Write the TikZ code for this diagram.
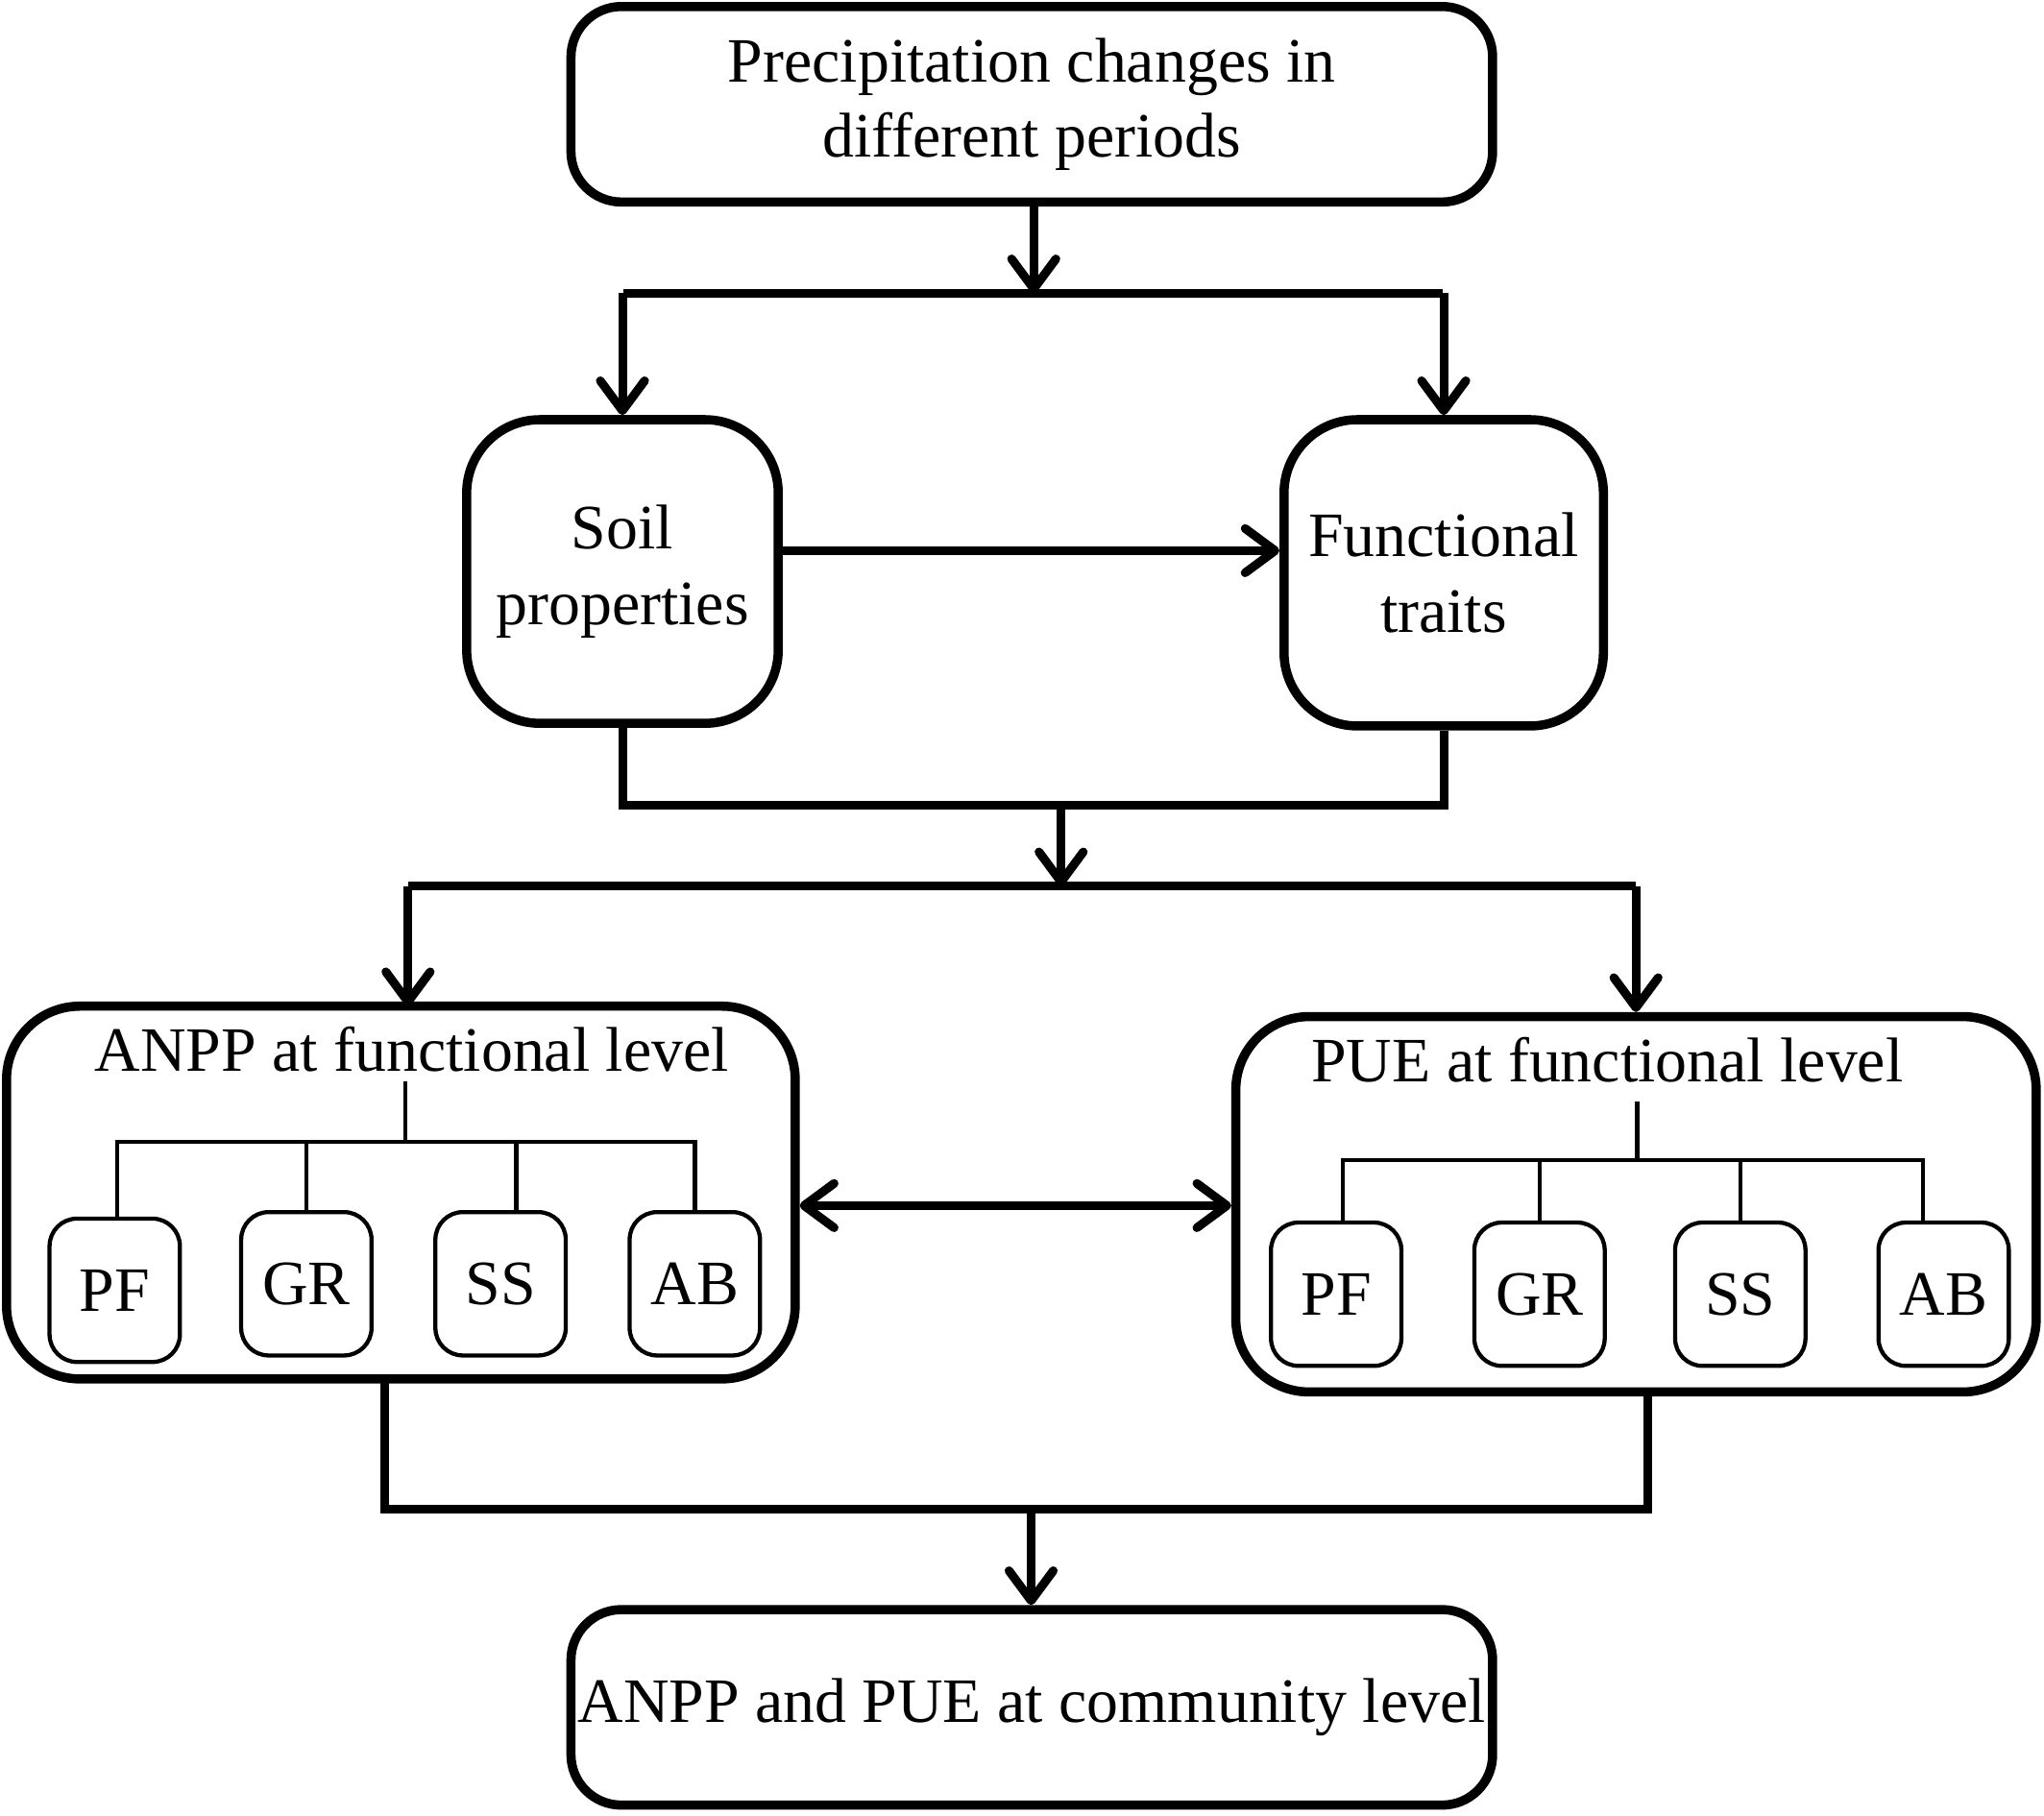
\documentclass[tikz,border=0pt]{standalone}
\usepackage{fontspec}
\setmainfont{Liberation Serif}
\usetikzlibrary{arrows.meta}

\tikzset{
  mainbox/.style={draw, line width=2pt, rounded corners=11pt, inner sep=0pt, align=center,
    font=\fontsize{13.8}{16.4}\selectfont},
  groupbox/.style={mainbox, rounded corners=16pt},
  subbox/.style={draw, line width=0.9pt, rounded corners=6pt, inner sep=0pt, text depth=-2pt,
    minimum width=1cm, minimum height=1.1cm, font=\fontsize{13.8}{16.4}\selectfont},
  title/.style={inner sep=0pt, font=\fontsize{13.8}{16.4}\selectfont},
  link/.style={line width=1.9pt},
  twig/.style={line width=0.9pt},
  tip/.style={Straight Barb[length=2.3mm, width=3.4mm, round]},
  arr/.style={link, -{Straight Barb[length=2.3mm, width=3.4mm, round]}},
  darr/.style={link, {Straight Barb[length=2.3mm, width=3.4mm, round]}-{Straight Barb[length=2.3mm, width=3.4mm, round]}}
}

\begin{document}
\begin{tikzpicture}
  \useasboundingbox (0,0) rectangle (15.68,13.93);

  % boxes
  \node[mainbox, minimum width=7.07cm, minimum height=1.5cm] (precip) at (7.915,13.13)
    {Precipitation changes in\\different periods};
  \node[mainbox, rounded corners=16pt, minimum width=2.39cm, minimum height=2.33cm] (soil) at (4.775,9.545)
    {Soil\\properties};
  \node[mainbox, rounded corners=16pt, minimum width=2.45cm, minimum height=2.35cm] (traits) at (11.075,9.535)
    {Functional\\traits};
  \node[groupbox, minimum width=6.05cm, minimum height=2.86cm] (anpp) at (3.075,4.78) {};
  \node[groupbox, minimum width=6.14cm, minimum height=2.88cm] (pue) at (12.55,4.69) {};
  \node[mainbox, minimum width=7.07cm, minimum height=1.5cm] (comm) at (7.915,0.83)
    {ANPP and PUE at community level};

  \node[title] (anppt) at (3.16,5.88) {ANPP at functional level};
  \node[title] (puet) at (12.33,5.80) {PUE at functional level};

  % functional groups
  \node[subbox] (apf) at (0.88,4.03) {PF};
  \node[subbox] (agr) at (2.35,4.08) {GR};
  \node[subbox] (ass) at (3.84,4.08) {SS};
  \node[subbox] (aab) at (5.33,4.08) {AB};
  \node[subbox] (ppf) at (10.25,4.00) {PF};
  \node[subbox] (pgr) at (11.81,4.00) {GR};
  \node[subbox] (pss) at (13.35,4.00) {SS};
  \node[subbox] (pab) at (14.91,4.00) {AB};

  \coordinate (aroot) at (3.11,5.63);
  \coordinate (ajoin) at (3.11,5.17);
  \draw[twig] (aroot) -- (ajoin);
  \draw[twig] (apf.north) ++(0.02,0) |- (aab.north |- ajoin) -- (aab.north);
  \draw[twig] (agr.north) -- (agr.north |- ajoin);
  \draw[twig] ([xshift=1.2mm]ass.north) -- ([xshift=1.2mm]ass.north |- ajoin);

  \coordinate (proot) at (12.56,5.48);
  \coordinate (pjoin) at (12.56,5.03);
  \draw[twig] (proot) -- (pjoin);
  \draw[twig] ([xshift=0.5mm]ppf.north) |- ([xshift=-1.6mm]pab.north |- pjoin) -- ([xshift=-1.6mm]pab.north);
  \draw[twig] (pgr.north) -- (pgr.north |- pjoin);
  \draw[twig] (pss.north) -- (pss.north |- pjoin);

  % links
  \coordinate (split1) at (7.93,11.68);
  \draw[arr] (precip.south -| split1) -- (split1);
  \draw[link] (4.78,11.68) -- (11.07,11.68);
  \draw[arr] (soil.north |- split1) -- (soil.north);
  \draw[arr] (traits.north |- split1) -- (traits.north);

  \draw[arr] ([yshift=1.6mm]soil.east) -- ([yshift=1.6mm]soil.east -| traits.west);

  \coordinate (merge1) at (8.14,7.75);
  \coordinate (split2) at (8.14,7.13);
  \draw[link] (soil.south) |- (merge1) -| (traits.south);
  \draw[arr] (merge1) -- (split2);
  \draw[link] (anpp.north |- split2) ++(0.055,0) -- (12.55,7.13);
  \draw[arr] (3.13,7.13) -- (3.13,6.21);
  \draw[arr] (pue.north |- split2) -- (pue.north);

  \draw[darr] (anpp.east |- 0,4.68) -- (pue.west |- 0,4.68);

  \coordinate (merge2) at (7.91,2.35);
  \draw[link] (2.95,3.35) |- (merge2) -| (12.64,3.25);
  \draw[arr] (merge2) -- (comm.north -| merge2);
\end{tikzpicture}
\end{document}
